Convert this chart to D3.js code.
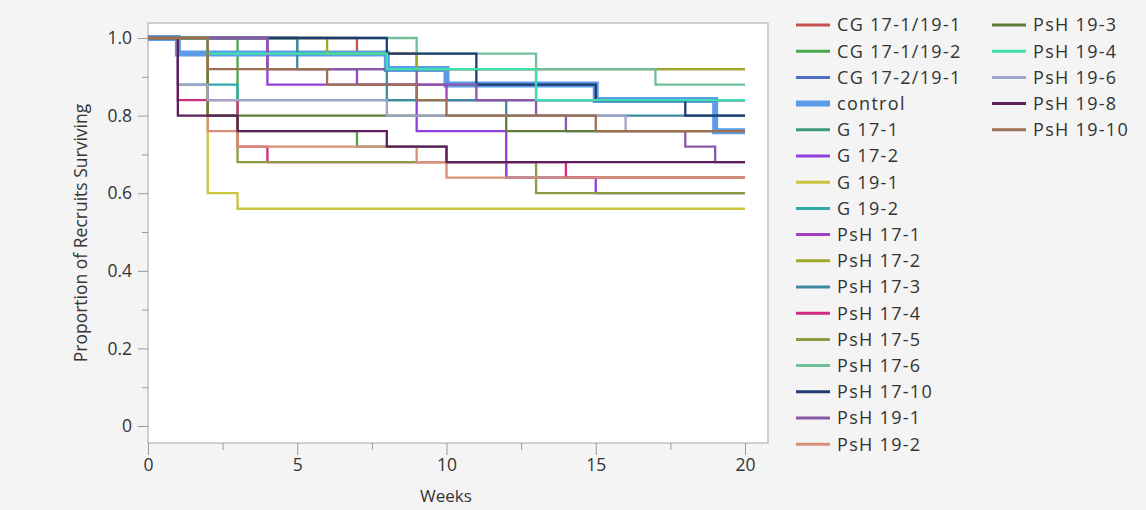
<!DOCTYPE html>
<html>
<head>
<meta charset="utf-8">
<script src="https://cdn.jsdelivr.net/npm/d3@7"></script>
<style>
  body { margin: 0; background: #f4f4f4; font-family: "Open Sans", "Noto Sans", sans-serif; }
  svg text { fill: #333; }
</style>
</head>
<body>
<script>

// groups, in legend order (later ones are drawn on top)
var groupNames = ["CG 17-1/19-1", "CG 17-1/19-2", "CG 17-2/19-1", "control", "G 17-1", "G 17-2",
  "G 19-1", "G 19-2", "PsH 17-1", "PsH 17-2", "PsH 17-3", "PsH 17-4", "PsH 17-5", "PsH 17-6",
  "PsH 17-10", "PsH 19-1", "PsH 19-2", "PsH 19-3", "PsH 19-4", "PsH 19-6", "PsH 19-8", "PsH 19-10"];

// week of each drop in survival, per group
var dropWeeks = [
  [7, 9],
  [3, 7, 10, 12],
  [2, 8, 10, 15],
  [1, 8, 10, 15, 19],
  [5, 8, 13],
  [4, 9, 12, 15],
  [2, 3],
  [1, 3],
  [4, 7, 10],
  [6, 9],
  [5, 8, 12],
  [1, 3, 4, 14],
  [2, 3, 13],
  [9, 13, 17],
  [8, 11, 15, 18],
  [4, 9, 11, 13, 14, 18, 19],
  [2, 3, 9, 10],
  [2, 12],
  [2, 8, 13],
  [1, 2, 8, 16],
  [1, 3, 8, 10],
  [2, 6, 9, 10, 15]
];

// proportion surviving after each drop
var survival = [
  [0.96, 0.92],
  [0.76, 0.72, 0.68, 0.64],
  [0.96, 0.92, 0.88, 0.84],
  [0.96, 0.92, 0.88, 0.84, 0.76],
  [0.96, 0.92, 0.84],
  [0.88, 0.76, 0.64, 0.60],
  [0.60, 0.56],
  [0.88, 0.84],
  [0.92, 0.88, 0.84],
  [0.96, 0.92],
  [0.92, 0.84, 0.80],
  [0.84, 0.72, 0.68, 0.64],
  [0.80, 0.68, 0.60],
  [0.96, 0.92, 0.88],
  [0.96, 0.88, 0.84, 0.80],
  [0.92, 0.88, 0.84, 0.80, 0.76, 0.72, 0.68],
  [0.76, 0.72, 0.68, 0.64],
  [0.80, 0.76],
  [0.96, 0.92, 0.84],
  [0.88, 0.84, 0.80, 0.76],
  [0.80, 0.76, 0.72, 0.68],
  [0.92, 0.88, 0.84, 0.80, 0.76]
];

var lastWeek = 20;
var xTicks = [0, 5, 10, 15, 20];
var xMinor = [2.5, 7.5, 12.5, 17.5];
var yTicks = [0, 0.2, 0.4, 0.6, 0.8, 1.0];
var yMinor = [0.1, 0.3, 0.5, 0.7, 0.9];

var colors = ["#c9504e", "#4aa64a", "#4e6fc4", "#5b9be8", "#3c9a7c", "#9040e0", "#c9c43e",
  "#2fa9a9", "#a23ec6", "#9ea92c", "#3f89a2", "#d22c80", "#8c9a42", "#6fc09a",
  "#1f3c72", "#8b58a8", "#d88f78", "#5d7e38", "#3fe0b0", "#9fa4c8", "#5c1e5c", "#9c7050"];

var width = 1146, height = 510;
var svg = d3.select("body").append("svg")
    .attr("width", width)
    .attr("height", height);

var plotL = 148, plotR = 768, plotT = 23, plotB = 443;

var x = d3.scaleLinear().domain([0, 20.77]).range([plotL, plotR]);
var y = d3.scaleLinear().domain([-0.0438, 1.0387]).range([plotB, plotT]);

// plot area
svg.append("rect")
    .attr("x", plotL).attr("y", plotT)
    .attr("width", plotR - plotL).attr("height", plotB - plotT)
    .attr("fill", "#fff").attr("stroke", "#a6a6a6").attr("stroke-width", 1);

// axes
var yAxis = d3.axisLeft(y).tickValues(yTicks).tickSize(10).tickPadding(6)
    .tickFormat(function (d) { return d === 0 ? "0" : d3.format(".1f")(d); });
var gy = svg.append("g").attr("transform", "translate(" + plotL + ",0)").call(yAxis);
gy.append("g").call(d3.axisLeft(y).tickValues(yMinor).tickSize(6).tickFormat(""));

var xAxis = d3.axisBottom(x).tickValues(xTicks).tickSize(12).tickPadding(4);
var gx = svg.append("g").attr("transform", "translate(0," + plotB + ")").call(xAxis);
gx.append("g").call(d3.axisBottom(x).tickValues(xMinor).tickSize(7).tickFormat(""));

svg.selectAll(".domain").remove();
svg.selectAll(".tick line").attr("stroke", "#999");
svg.selectAll(".tick text").style("font-size", "17.5px").style("font-family", "Open Sans").attr("fill", "#333");

// axis titles
svg.append("text")
    .attr("transform", "translate(81," + (plotT + plotB) / 2 + ") rotate(-90)")
    .attr("text-anchor", "middle").attr("dy", "0.35em")
    .style("font-size", "17.5px")
    .text("Proportion of Recruits Surviving");

svg.append("text")
    .attr("x", (plotL + plotR) / 2 - 12).attr("y", 496)
    .attr("text-anchor", "middle").attr("dy", "0.35em")
    .style("font-size", "17px")
    .text("Weeks");

// step curves
var line = d3.line()
    .x(function (d) { return x(d[0]); })
    .y(function (d) { return y(d[1]); })
    .curve(d3.curveStepAfter);

var curves = groupNames.map(function (name, i) {
    var pts = [[0, 1]];
    dropWeeks[i].forEach(function (w, j) { pts.push([w, survival[i][j]]); });
    pts.push([lastWeek, survival[i][survival[i].length - 1]]);
    return { name: name, pts: pts, color: colors[i] };
});

svg.append("g").selectAll("path")
    .data(curves)
    .enter().append("path")
    .attr("d", function (d) { return line(d.pts); })
    .attr("fill", "none")
    .attr("stroke", function (d) { return d.color; })
    .attr("stroke-width", function (d) { return d.name === "control" ? 6 : 2.3; })
    .attr("stroke-linejoin", "miter");

// legend, two columns
var legend = svg.append("g").selectAll("g")
    .data(curves)
    .enter().append("g")
    .attr("transform", function (d, i) {
        var col = i < 17 ? 0 : 1;
        var row = i < 17 ? i : i - 17;
        return "translate(" + (796 + col * 196) + "," + (25 + row * 26.2) + ")";
    });

legend.append("line")
    .attr("x1", 0).attr("x2", 34)
    .attr("stroke", function (d) { return d.color; })
    .attr("stroke-width", function (d) { return d.name === "control" ? 6 : 3; });

legend.append("text")
    .attr("x", 41).attr("dy", "0.35em")
    .style("font-size", "18px")
    .style("letter-spacing", "1.3px")
    .text(function (d) { return d.name; });

</script>
</body>
</html>
